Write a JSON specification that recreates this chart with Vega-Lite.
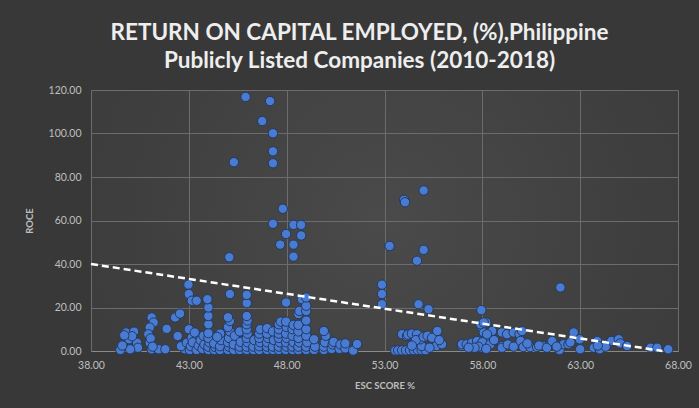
{
  "$schema": "https://vega.github.io/schema/vega-lite/v6.json",
  "width": 587,
  "height": 261,
  "autosize": {"type": "none"},
  "padding": {"left": 91, "top": 90, "right": 21, "bottom": 57},
  "background": "#383838",
  "title": {
    "text": ["RETURN ON CAPITAL EMPLOYED, (%),Philippine", "Publicly Listed Companies (2010-2018)"],
    "font": "Lato",
    "fontSize": 22.5,
    "fontWeight": "bold",
    "color": "#eeeeee",
    "anchor": "middle",
    "frame": "group",
    "dx": -25,
    "offset": 13,
    "lineHeight": 28
  },
  "config": {
    "view": {"stroke": null, "fill": {"gradient": "radial", "stops": [{"offset": 0, "color": "#4a4a4a"}, {"offset": 1, "color": "#3d3d3d"}]}},
    "axis": {
      "labelFont": "Lato",
      "labelFontSize": 10.5,
      "labelColor": "#bfbfbf",
      "titleFont": "Lato",
      "titleFontSize": 9.5,
      "titleFontWeight": "bold",
      "titleColor": "#bfbfbf",
      "gridColor": "#6c6c6c",
      "gridWidth": 1,
      "ticks": false
    }
  },
  "datasets": {
    "pts": [
      {"esc":39.5,"roce":0.5},{"esc":39.8,"roce":8.5},{"esc":40.2,"roce":8.9},{"esc":39.95,"roce":5.4},{"esc":40.35,"roce":3.8},{"esc":40.4,"roce":1.5},{"esc":40.0,"roce":0.8},{"esc":39.6,"roce":2.5},{"esc":40.1,"roce":6.8},{"esc":39.7,"roce":7.2},
      {"esc":41.1,"roce":15.4},{"esc":41.2,"roce":13.1},{"esc":41.0,"roce":10.8},{"esc":40.93,"roce":7.7},{"esc":41.0,"roce":3.8},{"esc":41.1,"roce":0.8},{"esc":41.45,"roce":0.8},{"esc":41.8,"roce":0.8},{"esc":41.05,"roce":5.8},{"esc":41.15,"roce":2.0},
      {"esc":41.87,"roce":10.2},{"esc":42.3,"roce":15.4},{"esc":42.55,"roce":17.2},{"esc":42.43,"roce":6.9},{"esc":42.8,"roce":0.8},{"esc":42.6,"roce":2.2},{"esc":42.9,"roce":3.8},{"esc":43.0,"roce":10.0},{"esc":43.15,"roce":6.1},
      {"esc":42.98,"roce":30.5},{"esc":43.0,"roce":26.2},{"esc":43.15,"roce":23.1},{"esc":43.4,"roce":23.1},{"esc":43.05,"roce":0.5},{"esc":43.1,"roce":2.2},{"esc":43.2,"roce":4.0},{"esc":43.3,"roce":8.5},
      {"esc":43.4,"roce":0.5},{"esc":43.5,"roce":2.5},{"esc":43.6,"roce":5.0},{"esc":43.7,"roce":1.0},{"esc":43.8,"roce":3.0},{"esc":43.75,"roce":7.0},
      {"esc":44.0,"roce":0.5},{"esc":44.0,"roce":2.0},{"esc":44.05,"roce":4.0},{"esc":44.0,"roce":6.0},{"esc":44.0,"roce":8.2},{"esc":44.0,"roce":12.3},{"esc":44.0,"roce":16.1},{"esc":44.0,"roce":20.0},{"esc":43.95,"roce":23.8},
      {"esc":44.3,"roce":0.5},{"esc":44.35,"roce":1.8},{"esc":44.3,"roce":3.5},{"esc":44.6,"roce":0.5},{"esc":44.6,"roce":2.2},{"esc":44.65,"roce":5.0},{"esc":44.6,"roce":8.0},{"esc":44.45,"roce":6.5},
      {"esc":45.0,"roce":0.5},{"esc":45.05,"roce":2.0},{"esc":45.0,"roce":4.0},{"esc":45.05,"roce":6.0},{"esc":45.1,"roce":9.0},{"esc":45.0,"roce":11.0},{"esc":45.1,"roce":13.8},{"esc":45.0,"roce":15.5},{"esc":45.1,"roce":26.2},{"esc":45.07,"roce":43.1},
      {"esc":45.3,"roce":0.5},{"esc":45.3,"roce":3.0},{"esc":45.35,"roce":7.0},{"esc":45.6,"roce":0.5},{"esc":45.6,"roce":2.0},{"esc":45.65,"roce":4.2},{"esc":45.6,"roce":9.0},
      {"esc":45.96,"roce":0.5},{"esc":45.96,"roce":2.0},{"esc":46.0,"roce":4.0},{"esc":45.96,"roce":6.0},{"esc":46.0,"roce":8.0},{"esc":45.96,"roce":10.0},{"esc":45.96,"roce":12.3},{"esc":46.0,"roce":14.0},{"esc":45.96,"roce":16.1},{"esc":45.96,"roce":22.0},{"esc":45.96,"roce":25.8},
      {"esc":46.3,"roce":0.5},{"esc":46.3,"roce":2.0},{"esc":46.35,"roce":5.0},
      {"esc":46.6,"roce":0.5},{"esc":46.6,"roce":2.2},{"esc":46.65,"roce":4.0},{"esc":46.6,"roce":6.0},{"esc":46.6,"roce":8.0},{"esc":46.65,"roce":10.0},
      {"esc":47.0,"roce":0.5},{"esc":47.0,"roce":2.0},{"esc":47.0,"roce":4.0},{"esc":47.05,"roce":6.0},{"esc":47.0,"roce":8.0},{"esc":47.0,"roce":10.5},
      {"esc":47.3,"roce":0.5},{"esc":47.3,"roce":2.0},{"esc":47.35,"roce":5.0},{"esc":47.3,"roce":9.0},
      {"esc":47.6,"roce":0.5},{"esc":47.6,"roce":2.0},{"esc":47.65,"roce":4.0},{"esc":47.6,"roce":6.0},{"esc":47.6,"roce":8.0},{"esc":47.6,"roce":10.0},{"esc":47.6,"roce":12.3},{"esc":47.7,"roce":13.5},
      {"esc":47.95,"roce":0.5},{"esc":48.0,"roce":2.0},{"esc":47.97,"roce":4.0},{"esc":48.0,"roce":6.0},{"esc":47.97,"roce":8.0},{"esc":48.0,"roce":11.0},{"esc":47.97,"roce":13.5},{"esc":47.97,"roce":22.3},
      {"esc":48.3,"roce":0.5},{"esc":48.3,"roce":2.0},{"esc":48.35,"roce":4.0},{"esc":48.3,"roce":7.0},{"esc":48.3,"roce":10.0},{"esc":48.35,"roce":12.0},
      {"esc":48.6,"roce":0.5},{"esc":48.6,"roce":2.0},{"esc":48.65,"roce":4.0},{"esc":48.6,"roce":6.0},{"esc":48.6,"roce":9.0},{"esc":48.6,"roce":12.0},{"esc":48.6,"roce":17.0},{"esc":48.65,"roce":18.4},{"esc":48.78,"roce":23.8},
      {"esc":49.0,"roce":0.5},{"esc":49.0,"roce":2.0},{"esc":49.05,"roce":4.0},{"esc":49.0,"roce":7.0},{"esc":49.0,"roce":10.0},{"esc":49.0,"roce":14.0},{"esc":49.0,"roce":18.4},{"esc":49.0,"roce":20.8},{"esc":49.0,"roce":24.6},
      {"esc":49.4,"roce":0.5},{"esc":49.45,"roce":2.0},{"esc":49.4,"roce":5.4},
      {"esc":49.9,"roce":0.5},{"esc":49.9,"roce":2.0},{"esc":49.95,"roce":4.0},{"esc":50.0,"roce":7.0},{"esc":49.9,"roce":9.2},
      {"esc":50.3,"roce":1.0},{"esc":50.35,"roce":3.0},{"esc":50.4,"roce":4.2},{"esc":50.7,"roce":1.0},{"esc":50.75,"roce":3.0},{"esc":51.0,"roce":1.2},{"esc":51.0,"roce":3.5},{"esc":51.4,"roce":0.2},{"esc":51.6,"roce":3.2},
      {"esc":45.9,"roce":116.8},{"esc":47.15,"roce":114.9},{"esc":46.75,"roce":105.7},{"esc":47.3,"roce":100.1},{"esc":47.3,"roce":91.8},{"esc":47.3,"roce":86.3},{"esc":45.3,"roce":86.8},
      {"esc":47.8,"roce":65.4},{"esc":47.3,"roce":58.5},{"esc":48.35,"roce":58.0},{"esc":48.74,"roce":58.0},{"esc":47.97,"roce":53.8},{"esc":48.74,"roce":53.1},{"esc":47.67,"roce":48.9},{"esc":48.35,"roce":48.9},{"esc":48.35,"roce":43.4},
      {"esc":52.87,"roce":30.5},{"esc":52.87,"roce":26.2},{"esc":52.87,"roce":21.5},{"esc":53.26,"roce":48.3},{"esc":54.0,"roce":69.5},{"esc":54.05,"roce":68.4},{"esc":55.0,"roce":73.8},{"esc":55.0,"roce":46.5},{"esc":54.66,"roce":41.5},{"esc":54.74,"roce":21.5},{"esc":55.25,"roce":19.2},
      {"esc":53.55,"roce":0.2},{"esc":53.7,"roce":0.3},{"esc":53.9,"roce":0.3},{"esc":54.1,"roce":0.3},{"esc":54.3,"roce":0.4},{"esc":54.5,"roce":0.4},{"esc":54.7,"roce":0.5},{"esc":54.9,"roce":0.5},{"esc":55.1,"roce":0.4},{"esc":54.9,"roce":2.3},
      {"esc":53.9,"roce":7.7},{"esc":54.15,"roce":6.9},{"esc":54.2,"roce":7.5},{"esc":54.4,"roce":8.0},{"esc":54.66,"roce":7.7},{"esc":54.83,"roce":5.4},{"esc":54.6,"roce":5.0},{"esc":55.0,"roce":6.5},{"esc":55.2,"roce":7.0},{"esc":55.43,"roce":6.1},{"esc":55.7,"roce":9.2},{"esc":55.65,"roce":2.3},{"esc":55.94,"roce":3.1},{"esc":55.8,"roce":5.0},{"esc":55.3,"roce":1.5},{"esc":54.4,"roce":2.5},
      {"esc":56.96,"roce":2.3},{"esc":56.96,"roce":3.1},{"esc":57.2,"roce":3.1},{"esc":57.47,"roce":3.8},{"esc":57.73,"roce":4.6},{"esc":57.98,"roce":1.5},{"esc":57.98,"roce":10.8},{"esc":58.07,"roce":8.5},{"esc":58.2,"roce":13.1},{"esc":57.9,"roce":12.3},{"esc":58.3,"roce":6.1},{"esc":58.5,"roce":9.2},{"esc":58.24,"roce":7.7},{"esc":57.95,"roce":18.8},{"esc":58.07,"roce":13.1},{"esc":58.0,"roce":4.0},{"esc":57.8,"roce":2.0},{"esc":58.4,"roce":3.0},{"esc":58.2,"roce":1.0},{"esc":58.6,"roce":5.0},{"esc":57.6,"roce":1.5},{"esc":57.3,"roce":1.5},
      {"esc":59.0,"roce":2.3},{"esc":59.0,"roce":8.5},{"esc":59.26,"roce":7.7},{"esc":59.6,"roce":8.5},{"esc":59.9,"roce":7.7},{"esc":60.03,"roce":9.2},{"esc":59.95,"roce":4.6},{"esc":59.0,"roce":1.5},{"esc":59.3,"roce":3.0},{"esc":59.6,"roce":2.0},
      {"esc":60.1,"roce":1.8},{"esc":60.45,"roce":1.8},{"esc":60.8,"roce":1.8},{"esc":61.1,"roce":2.3},{"esc":61.5,"roce":3.8},{"esc":61.7,"roce":3.1},{"esc":61.95,"roce":0.5},{"esc":62.15,"roce":3.1},{"esc":62.4,"roce":3.1},{"esc":60.3,"roce":3.5},{"esc":60.9,"roce":2.5},{"esc":61.3,"roce":1.5},{"esc":61.57,"roce":4.6},{"esc":61.8,"roce":2.0},{"esc":62.67,"roce":8.5},{"esc":61.99,"roce":29.2},{"esc":62.98,"roce":5.4},{"esc":63.0,"roce":0.8},{"esc":62.5,"roce":4.0},
      {"esc":63.87,"roce":4.6},{"esc":63.7,"roce":1.5},{"esc":64.0,"roce":0.8},{"esc":64.37,"roce":3.1},{"esc":64.6,"roce":4.6},{"esc":64.97,"roce":5.4},{"esc":65.05,"roce":3.5},{"esc":65.4,"roce":2.3},{"esc":64.3,"roce":2.0},{"esc":63.9,"roce":2.5},
      {"esc":66.6,"roce":1.5},{"esc":66.94,"roce":1.5},{"esc":67.5,"roce":0.8}
    ],
    "trend": [{"esc": 38, "roce": 40}, {"esc": 67.2, "roce": 0}]
  },
  "layer": [
    {
      "data": {"name": "pts"},
      "mark": {"type": "circle", "size": 88, "fill": "#4a7bd3", "opacity": 1, "stroke": "#22395f", "strokeWidth": 1},
      "encoding": {
        "x": {"field": "esc", "type": "quantitative", "scale": {"domain": [38, 68], "nice": false, "zero": false},
          "axis": {"title": "ESC SCORE %", "values": [38, 43, 48, 53, 58, 63, 68], "format": ".2f", "labelPadding": 9, "titlePadding": 10, "domainColor": "#8a8a8a", "labelFlush": false}},
        "y": {"field": "roce", "type": "quantitative", "scale": {"domain": [0, 120], "nice": false},
          "axis": {"title": "ROCE", "values": [0, 20, 40, 60, 80, 100, 120], "format": ".2f", "labelPadding": 10, "titlePadding": 14, "domain": false}}
      }
    },
    {
      "data": {"name": "trend"},
      "mark": {"type": "line", "color": "#ffffff", "strokeWidth": 2.5, "strokeDash": [7, 4]},
      "encoding": {
        "x": {"field": "esc", "type": "quantitative"},
        "y": {"field": "roce", "type": "quantitative"}
      }
    }
  ]
}
